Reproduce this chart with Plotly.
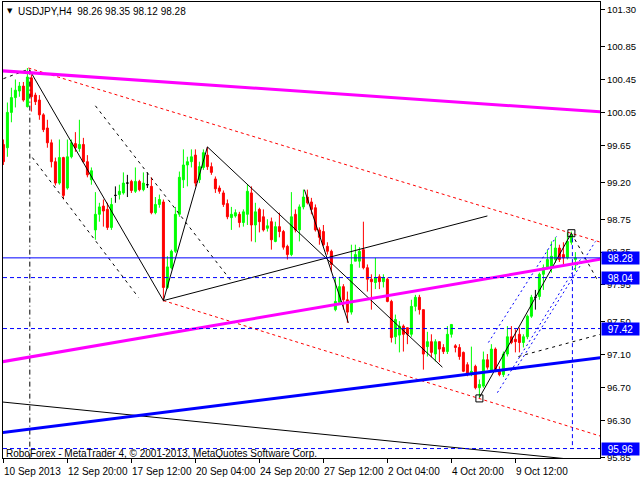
import plotly.graph_objects as go

# ---------------- DATA (USDJPY H4, bars indexed from 10 Sep 2013) ----------------
opens = [
    99.66, 99.62, 100.05, 100.23, 100.31, 100.37, 100.12, 100.47, 100.26, 100.20,
    100.02, 99.86, 99.68, 99.45, 99.19, 99.50, 99.13, 99.51, 99.67, 99.61,
    99.66, 99.45, 99.23, 98.62, 98.81, 98.91, 98.87, 98.65, 99.04, 99.05,
    99.07, 99.19, 99.21, 99.09, 99.21, 99.11, 99.17, 99.15, 98.83, 98.93,
    98.96, 97.92, 98.16, 98.36, 98.81, 99.23, 99.41, 99.45, 99.53, 99.23,
    99.38, 99.53, 99.39, 99.24, 99.13, 99.07, 98.94, 98.77, 98.79, 98.81,
    98.71, 98.81, 99.07, 98.68, 98.87, 98.78, 98.64, 98.72, 98.48, 98.66,
    98.60, 98.42, 98.32, 98.81, 98.62, 98.90, 99.02, 98.96, 98.89, 98.62,
    98.60, 98.42, 98.36, 97.65, 97.74, 97.93, 97.77, 97.62, 98.24, 98.24,
    98.38, 98.16, 98.02, 97.98, 98.05, 97.99, 98.02, 97.75, 97.32, 97.34,
    97.45, 97.43, 97.35, 97.69, 97.80, 97.65, 97.20, 97.26, 97.11, 97.26,
    97.19, 97.14, 97.35, 97.21, 97.19, 97.13, 96.98, 96.86, 96.96, 96.70,
    96.72, 97.04, 96.90, 97.17, 96.90, 96.86, 97.11, 97.32, 97.29, 97.35,
    97.25, 97.32, 97.57, 97.80, 97.81, 98.08, 98.16, 98.16, 98.26, 98.40,
    98.32, 98.28, 98.47, 98.26,
]
highs = [
    99.72, 100.17, 100.35, 100.45, 100.42, 100.42, 100.59, 100.51, 100.29, 100.26,
    100.04, 99.96, 99.72, 99.50, 99.72, 99.51, 99.72, 99.72, 99.81, 99.96,
    99.74, 99.53, 99.38, 99.08, 98.95, 98.99, 98.95, 99.01, 99.15, 99.17,
    99.32, 99.29, 99.23, 99.38, 99.23, 99.32, 99.32, 99.26, 99.02, 99.05,
    98.99, 98.30, 98.38, 98.90, 99.33, 99.60, 99.51, 99.60, 99.60, 99.45,
    99.60, 99.63, 99.44, 99.27, 99.16, 99.10, 98.99, 98.90, 98.87, 98.84,
    98.87, 99.17, 99.15, 98.95, 98.89, 98.87, 98.75, 98.77, 98.72, 98.83,
    98.62, 98.44, 99.08, 98.87, 98.93, 99.11, 99.11, 99.01, 98.93, 98.65,
    98.68, 98.47, 98.38, 98.04, 98.05, 97.96, 97.87, 98.44, 98.44, 98.41,
    98.72, 98.20, 98.08, 98.28, 98.08, 98.08, 98.04, 97.77, 97.59, 97.51,
    97.47, 97.43, 97.77, 97.83, 97.83, 97.65, 97.38, 97.35, 97.29, 97.26,
    97.23, 97.45, 97.47, 97.23, 97.23, 97.14, 97.01, 97.20, 96.98, 96.80,
    97.14, 97.11, 97.23, 97.19, 96.96, 97.14, 97.45, 97.45, 97.41, 97.43,
    97.35, 97.59, 97.83, 97.89, 98.10, 98.20, 98.38, 98.48, 98.53, 98.44,
    98.47, 98.59, 98.60, 98.35,
]
lows = [
    99.41, 99.51, 99.93, 100.11, 100.24, 100.18, 100.11, 100.06, 100.14, 99.96,
    99.81, 99.62, 99.38, 99.16, 99.17, 98.99, 99.11, 99.49, 99.57, 99.57,
    99.44, 99.26, 99.17, 98.50, 98.72, 98.66, 98.62, 98.62, 98.95, 98.99,
    99.05, 99.02, 99.07, 99.07, 99.09, 99.09, 99.13, 98.81, 98.81, 98.89,
    97.75, 97.90, 98.14, 98.34, 98.78, 99.13, 99.15, 99.38, 99.15, 99.19,
    99.35, 99.35, 99.29, 99.07, 99.06, 98.90, 98.75, 98.62, 98.77, 98.65,
    98.66, 98.68, 98.48, 98.47, 98.59, 98.60, 98.60, 98.38, 98.47, 98.53,
    98.38, 98.26, 98.30, 98.59, 98.48, 98.87, 98.93, 98.81, 98.60, 98.44,
    98.42, 98.32, 98.11, 97.63, 97.71, 97.65, 97.49, 97.59, 98.24, 98.16,
    98.14, 97.87, 97.65, 97.90, 97.90, 97.92, 97.74, 97.25, 97.23, 97.13,
    97.14, 97.23, 97.32, 97.63, 97.59, 96.92, 97.08, 97.07, 97.02, 97.01,
    97.11, 97.11, 97.31, 97.13, 97.04, 96.89, 96.84, 96.84, 96.68, 96.58,
    96.70, 96.92, 96.89, 96.89, 96.84, 96.83, 97.08, 97.23, 97.13, 97.13,
    97.19, 97.29, 97.55, 97.65, 97.77, 97.89, 98.14, 98.10, 98.22, 98.23,
    98.20, 98.26, 98.44, 98.12,
]
closes = [
    99.45, 100.05, 100.23, 100.32, 100.37, 100.20, 100.48, 100.24, 100.18, 100.02,
    99.84, 99.68, 99.45, 99.19, 99.50, 99.04, 99.51, 99.68, 99.62, 99.66,
    99.45, 99.29, 99.34, 98.81, 98.90, 98.85, 98.65, 98.93, 99.04, 99.09,
    99.19, 99.19, 99.10, 99.21, 99.11, 99.19, 99.17, 98.83, 98.93, 98.99,
    97.92, 98.17, 98.36, 98.81, 99.26, 99.41, 99.45, 99.51, 99.19, 99.39,
    99.56, 99.39, 99.32, 99.12, 99.09, 98.93, 98.78, 98.81, 98.83, 98.71,
    98.84, 99.09, 98.68, 98.84, 98.72, 98.62, 98.67, 98.50, 98.66, 98.60,
    98.41, 98.32, 98.78, 98.62, 98.90, 99.02, 98.95, 98.87, 98.62, 98.53,
    98.44, 98.36, 98.20, 97.75, 97.93, 97.77, 97.62, 98.20, 98.32, 98.36,
    98.16, 98.02, 97.99, 98.04, 97.99, 98.04, 97.75, 97.31, 97.53, 97.45,
    97.35, 97.35, 97.69, 97.80, 97.65, 97.11, 97.26, 97.13, 97.26, 97.17,
    97.14, 97.35, 97.47, 97.19, 97.08, 96.90, 96.86, 96.90, 96.70, 96.74,
    97.04, 96.95, 97.17, 96.90, 96.86, 97.11, 97.32, 97.25, 97.26, 97.25,
    97.32, 97.57, 97.80, 97.80, 98.08, 98.16, 98.26, 98.30, 98.40, 98.26,
    98.28, 98.48, 98.56, 98.28,
]
doji_bars = [28, 31, 36, 133]

time_tick_pos = [0, 16, 32, 48, 64, 80, 96, 112, 128]
time_tick_labels = ["10 Sep 2013", "12 Sep 20:00", "17 Sep 12:00", "20 Sep 04:00",
                    "24 Sep 20:00", "27 Sep 12:00", "2 Oct 04:00", "4 Oct 20:00",
                    "9 Oct 12:00"]
price_ticks = [101.30, 100.85, 100.45, 100.05, 99.65, 99.20, 98.75, 98.35,
               97.95, 97.50, 97.10, 96.70, 96.30, 95.85]

level_solid = [98.28]
levels_dashed = [98.04, 97.42, 95.96]

title_text = "USDJPY,H4  98.26 98.35 98.12 98.28"
footer_text = "RoboForex - MetaTrader 4, \u00a9 2001-2013, MetaQuotes Software Corp."

# drawn analysis objects: (bar index, price) endpoints
magenta_lines = [([-1, 150], [100.558, 100.054]), ([-1, 150], [97.01, 98.27])]
blue_trend = ([-1, 150], [96.15, 97.07])
black_long = ([-1, 150], [96.53, 95.79])
red_dashed = [([6.25, 150], [100.59, 98.46]), ([40, 150], [97.76, 96.10])]
black_solid = [([6.5, 40], [100.57, 97.76]), ([40, 51], [97.76, 99.63]),
               ([51, 109.75], [99.63, 96.95]), ([75.25, 86.25], [99.11, 97.49]),
               ([40, 121], [97.76, 98.79]), ([119, 142], [96.58, 98.58])]
black_dashed = [([142, 148.5], [98.58, 98.01]), ([0, 6], [100.46, 100.57]),
                ([7.25, 33.75], [99.50, 97.80]), ([23, 57.25], [100.13, 97.98]),
                ([128.75, 150], [97.08, 97.36])]
black_vertical = ([6.6, 6.6], [100.57, 95.80])
blue_dotted = [([121.25, 138.25], [97.25, 98.54]), ([123.5, 144.25], [96.64, 98.26]),
               ([128, 148], [96.92, 98.48])]
blue_vertical = ([142.25, 142.25], [98.52, 95.96])
marker_points = ([142, 119], [98.58, 96.57])

# ---------------- FIGURE ----------------
GREEN = "#00FF00"
RED = "#FF0000"
FONT = "Liberation Sans"
FS = 9.5

fig = go.Figure()

reg = [i for i in range(len(opens)) if i not in doji_bars]
fig.add_trace(go.Candlestick(
    x=reg,
    open=[opens[i] for i in reg], high=[highs[i] for i in reg],
    low=[lows[i] for i in reg], close=[closes[i] for i in reg],
    increasing=dict(line=dict(color=GREEN, width=1), fillcolor=GREEN),
    decreasing=dict(line=dict(color=RED, width=1), fillcolor=RED),
    whiskerwidth=0, hoverinfo="skip",
))
fig.add_trace(go.Candlestick(
    x=doji_bars,
    open=[opens[i] for i in doji_bars], high=[highs[i] for i in doji_bars],
    low=[lows[i] for i in doji_bars], close=[closes[i] for i in doji_bars],
    increasing=dict(line=dict(color="black", width=1), fillcolor="black"),
    decreasing=dict(line=dict(color="black", width=1), fillcolor="black"),
    whiskerwidth=0, hoverinfo="skip",
))


def add_line(xs, ys, color, width=1, dash="solid"):
    fig.add_trace(go.Scatter(x=xs, y=ys, mode="lines",
                             line=dict(color=color, width=width, dash=dash),
                             hoverinfo="skip"))


for xs, ys in red_dashed:
    add_line(xs, ys, RED, 1, "3px,3px")
for xs, ys in black_dashed:
    add_line(xs, ys, "black", 1, "3px,4px")
add_line(*black_vertical, "black", 1, "5px,3px,1px,3px")
for xs, ys in black_solid:
    add_line(xs, ys, "black", 1)
add_line(*black_long, "black", 1)
for xs, ys in blue_dotted:
    add_line(xs, ys, "#0000FF", 1, "2px,3px")
add_line(*blue_vertical, "#0000FF", 1, "4px,3px")
for xs, ys in magenta_lines:
    add_line(xs, ys, "#FF00FF", 3)
add_line(*blue_trend, "#0000FF", 3)

for lv in level_solid:
    fig.add_shape(type="line", xref="paper", x0=0, x1=1, yref="y", y0=lv, y1=lv,
                  line=dict(color="#0000FF", width=1))
for lv in levels_dashed:
    fig.add_shape(type="line", xref="paper", x0=0, x1=1, yref="y", y0=lv, y1=lv,
                  line=dict(color="#0000FF", width=1, dash="4px,3px"))

fig.add_trace(go.Scatter(x=marker_points[0], y=marker_points[1], mode="markers",
                         marker=dict(symbol="square-open", size=7,
                                     color="black", line=dict(width=1)),
                         hoverinfo="skip"))

# price label boxes on the right axis
for lv in level_solid + levels_dashed:
    fig.add_annotation(xref="paper", x=1.0017, xanchor="left", yref="y", y=lv,
                       yanchor="middle", text=f"{lv:.2f}", showarrow=False,
                       bgcolor="#0000FF", width=37, height=12, borderpad=0,
                       font=dict(family=FONT, size=FS + 0.5, color="white"))

PLOT_L, PLOT_R, PLOT_T, PLOT_B = 3, 600, 2, 458


def px_x(px):
    return (px - PLOT_L) / (PLOT_R - PLOT_L)


def px_y(py):
    return (PLOT_B - py) / (PLOT_B - PLOT_T)


# time axis labels, left aligned at their ticks
for pos, lab in zip(time_tick_pos, time_tick_labels):
    fig.add_annotation(xref="x", x=pos, xanchor="left", xshift=-1,
                       yref="paper", y=0, yanchor="top", yshift=-6,
                       text=lab, showarrow=False,
                       font=dict(family=FONT, size=FS + 0.5, color="black"))

fig.add_annotation(xref="paper", x=px_x(5), xanchor="left", yref="paper",
                   y=px_y(11), yanchor="middle", text="\u25bc", showarrow=False,
                   font=dict(family="DejaVu Sans", size=7, color="black"))
fig.add_annotation(xref="paper", x=px_x(16), xanchor="left", yref="paper",
                   y=px_y(11), yanchor="middle", text=title_text, showarrow=False,
                   font=dict(family=FONT, size=FS + 0.5, color="black"))
fig.add_annotation(xref="paper", x=px_x(4), xanchor="left", yref="paper",
                   y=px_y(453), yanchor="middle", text=footer_text, showarrow=False,
                   font=dict(family=FONT, size=FS + 0.5, color="black"))

fig.update_layout(
    width=640, height=480, autosize=False,
    margin=dict(l=PLOT_L, r=640 - PLOT_R, t=PLOT_T, b=480 - PLOT_B, pad=0),
    paper_bgcolor="white", plot_bgcolor="white", showlegend=False,
    hovermode=False,
    xaxis=dict(range=[-0.1, 149.15], showgrid=False, zeroline=False,
               showline=True, linecolor="black", linewidth=1, mirror=True,
               tickvals=time_tick_pos, ticks="outside", ticklen=4,
               tickcolor="black", showticklabels=False,
               rangeslider=dict(visible=False)),
    yaxis=dict(range=[95.845, 101.393], side="right", showgrid=False,
               zeroline=False, showline=True, linecolor="black", linewidth=1,
               mirror=True, tickvals=price_ticks,
               ticktext=[f"{v:.2f}" for v in price_ticks],
               ticks="outside", ticklen=4, tickcolor="black",
               tickfont=dict(family=FONT, size=FS, color="black")),
)

fig.write_html("out.html", config={"displayModeBar": False},
               post_script="document.body.style.margin='0px';"
                           "document.body.style.padding='0px';")
